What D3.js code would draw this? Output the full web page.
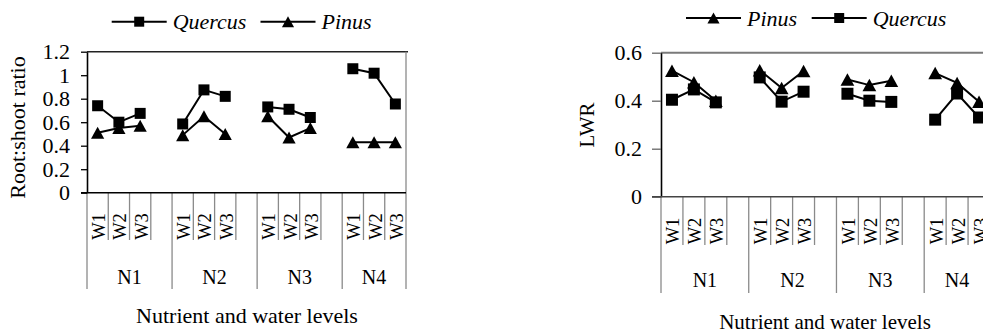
<!DOCTYPE html>
<html>
<head>
<meta charset="utf-8">
<script src="https://cdn.jsdelivr.net/npm/d3@7/dist/d3.min.js"></script>
<style>
  html, body { margin: 0; padding: 0; background: #fff; }
  svg { display: block; }
  text { font-family: "Liberation Serif", "Times New Roman", serif; fill: #000; }
</style>
</head>
<body>
<svg id="chart" width="983" height="333"></svg>
<script>
// Nutrient levels (outer categories) and water levels (inner categories)
const nutrientLevels = ["N1", "N2", "N3", "N4"];
const waterLevels = ["W1", "W2", "W3"];

// Root:shoot ratio, one value per N x W combination (N1W1, N1W2, ... N4W3)
const rootShootQuercus = [0.74, 0.60, 0.675, 0.585, 0.875, 0.82, 0.73, 0.71, 0.64, 1.055, 1.017, 0.755];
const rootShootPinus   = [0.51, 0.55, 0.57, 0.49, 0.65, 0.50, 0.65, 0.47, 0.55, 0.43, 0.43, 0.43];

// Leaf weight ratio
const lwrPinus   = [0.525, 0.477, 0.40, 0.527, 0.453, 0.524, 0.488, 0.465, 0.483, 0.515, 0.474, 0.396];
const lwrQuercus = [0.404, 0.447, 0.393, 0.497, 0.396, 0.4375, 0.429, 0.40, 0.395, 0.321, 0.43, 0.33];

// Axis tick values
const rootShootTicks = [0, 0.2, 0.4, 0.6, 0.8, 1, 1.2];
const lwrTicks = [0, 0.2, 0.4, 0.6];

const svg = d3.select("#chart");

// Marker shapes, centred on their bounding box
function markerPath(shape, s) {
  if (shape === "square") {
    const h = s / 2;
    return `M${-h},${-h}H${h}V${h}H${-h}Z`;
  }
  const w = s * 1.1 / 2, h = s / 2;
  return `M0,${-h}L${w},${h}L${-w},${h}Z`;
}

function drawPanel(cfg) {
  const g = svg.append("g");
  const slotCount = nutrientLevels.length * 4 - 1; // blank slot between groups
  const x = d3.scaleBand().domain(d3.range(slotCount)).range([cfg.x0, cfg.x1]);
  const y = d3.scaleLinear().domain(cfg.domain).range([cfg.yBottom, cfg.yTop]);
  const slotOf = i => Math.floor(i / 3) * 4 + (i % 3);

  // Top border
  g.append("line")
    .attr("x1", cfg.x0).attr("x2", cfg.x1 + 2)
    .attr("y1", y(cfg.domain[1])).attr("y2", y(cfg.domain[1]))
    .attr("stroke", cfg.topColor).attr("stroke-width", cfg.topWidth);

  // Category axis: boundary lines between slots, long ones between nutrient groups
  const boundaries = d3.range(slotCount + 1);
  g.selectAll("line.cat").data(boundaries).join("line")
    .attr("class", "cat")
    .attr("x1", k => k === slotCount ? cfg.x1 : x(k))
    .attr("x2", k => k === slotCount ? cfg.x1 : x(k))
    .attr("y1", k => (k === slotCount && cfg.rightBorder) ? y(cfg.domain[1]) : y(0))
    .attr("y2", k => (k % 4 === 0 || k === slotCount) ? cfg.longY : cfg.shortY)
    .attr("stroke", "#8a8a8a").attr("stroke-width", 1.3);

  // Value axis
  const yAxis = d3.axisLeft(y)
    .tickValues(cfg.ticks)
    .tickFormat(d3.format("~g"))
    .tickSize(cfg.tickLen).tickSizeOuter(0).tickPadding(cfg.tickPad);
  const ya = g.append("g").attr("transform", `translate(${cfg.x0},0)`).call(yAxis);
  ya.select(".domain").attr("stroke", "#000").attr("stroke-width", 1.6);
  ya.selectAll(".tick line").attr("stroke", cfg.tickColor).attr("stroke-width", 1.3);
  ya.selectAll(".tick text")
    .attr("font-family", "Liberation Serif, Times New Roman, serif")
    .attr("font-size", cfg.tickFont).attr("fill", "#000");

  // Baseline
  g.append("line")
    .attr("x1", cfg.x0 - cfg.tickLen).attr("x2", cfg.x1)
    .attr("y1", y(0)).attr("y2", y(0))
    .attr("stroke", cfg.baseColor).attr("stroke-width", 1.6);

  // Water level labels (rotated) and nutrient labels
  const inner = d3.range(12);
  g.selectAll("text.w").data(inner).join("text")
    .attr("class", "w")
    .attr("transform", i => `translate(${x(slotOf(i)) + x.bandwidth() / 2 + 1},${cfg.wY}) rotate(-90)`)
    .attr("text-anchor", "middle").attr("dy", "0.35em")
    .attr("font-size", cfg.wFont)
    .text(i => waterLevels[i % 3]);
  g.selectAll("text.n").data(nutrientLevels).join("text")
    .attr("class", "n")
    .attr("x", (d, j) => (x(j * 4) + (j === 3 ? cfg.x1 : x(j * 4 + 3) + x.bandwidth())) / 2)
    .attr("y", cfg.nY).attr("dy", "0.35em")
    .attr("text-anchor", "middle").attr("font-size", cfg.nFont)
    .text(d => d);

  // Axis titles
  g.append("text")
    .attr("x", cfg.xTitleX).attr("y", cfg.xTitleY).attr("dy", "0.35em")
    .attr("text-anchor", "middle").attr("font-size", cfg.titleFont)
    .text("Nutrient and water levels");
  g.append("text")
    .attr("transform", `translate(${cfg.yTitleX},${cfg.yTitleY}) rotate(-90)`)
    .attr("text-anchor", "middle").attr("dy", "0.35em")
    .attr("font-size", cfg.titleFont)
    .text(cfg.yTitle);

  // Series: one line segment per nutrient group, markers at each point
  const line = d3.line().x(d => x(slotOf(d.i)) + x.bandwidth() / 2).y(d => y(d.v));
  cfg.series.forEach(s => {
    const pts = s.values.map((v, i) => ({ v, i }));
    nutrientLevels.forEach((n, j) => {
      g.append("path")
        .datum(pts.slice(j * 3, j * 3 + 3))
        .attr("d", line)
        .attr("fill", "none").attr("stroke", "#000").attr("stroke-width", 2);
    });
    g.selectAll(null).data(pts).join("path")
      .attr("transform", d => `translate(${x(slotOf(d.i)) + x.bandwidth() / 2},${y(d.v)})`)
      .attr("d", markerPath(s.shape, s.shape === "square" ? cfg.sqSize : cfg.triSize))
      .attr("fill", "#000");
  });

  // Legend
  let lx = cfg.legendX;
  cfg.legend.forEach(item => {
    const lg = g.append("g");
    lg.append("line")
      .attr("x1", item.x).attr("x2", item.x + 55)
      .attr("y1", cfg.legendY).attr("y2", cfg.legendY)
      .attr("stroke", "#000").attr("stroke-width", 2);
    lg.append("path")
      .attr("transform", `translate(${item.x + 27.5},${cfg.legendY})`)
      .attr("d", markerPath(item.shape, item.shape === "square" ? 10 : 11))
      .attr("fill", "#000");
    lg.append("text")
      .attr("x", item.x + 61).attr("y", cfg.legendY).attr("dy", "0.35em")
      .attr("font-size", cfg.legendFont).attr("font-style", "italic")
      .text(item.name);
  });
}

// Root:shoot ratio panel
drawPanel({
  x0: 87, x1: 406, yTop: 51.7, yBottom: 192.7, domain: [0, 1.2],
  ticks: rootShootTicks, tickLen: 6, tickPad: 11, tickFont: 22, tickColor: "#000",
  topColor: "#222", topWidth: 1.4, baseColor: "#000", rightBorder: true,
  shortY: 240, longY: 289, wY: 226.5, wFont: 18.5, nY: 277, nFont: 20,
  xTitleX: 247, xTitleY: 315, yTitleX: 17, yTitleY: 127.5, titleFont: 22,
  yTitle: "Root:shoot ratio",
  sqSize: 11, triSize: 12,
  series: [
    { name: "Quercus", shape: "square", values: rootShootQuercus },
    { name: "Pinus", shape: "triangle", values: rootShootPinus }
  ],
  legendY: 21.7, legendFont: 22,
  legend: [
    { name: "Quercus", shape: "square", x: 111.7 },
    { name: "Pinus", shape: "triangle", x: 260.5 }
  ]
});

// Leaf weight ratio panel
drawPanel({
  x0: 661, x1: 990, yTop: 52.7, yBottom: 196.7, domain: [0, 0.6],
  ticks: lwrTicks, tickLen: 9, tickPad: 10, tickFont: 22, tickColor: "#666",
  topColor: "#7a7a7a", topWidth: 2, baseColor: "#444", rightBorder: false,
  shortY: 245, longY: 293, wY: 231, wFont: 18.5, nY: 280, nFont: 20,
  xTitleX: 825, xTitleY: 322, yTitleX: 587, yTitleY: 125, titleFont: 21,
  yTitle: "LWR",
  sqSize: 12, triSize: 12.5,
  series: [
    { name: "Pinus", shape: "triangle", values: lwrPinus },
    { name: "Quercus", shape: "square", values: lwrQuercus }
  ],
  legendY: 18, legendFont: 22,
  legend: [
    { name: "Pinus", shape: "triangle", x: 686 },
    { name: "Quercus", shape: "square", x: 811.7 }
  ]
});
</script>
</body>
</html>
